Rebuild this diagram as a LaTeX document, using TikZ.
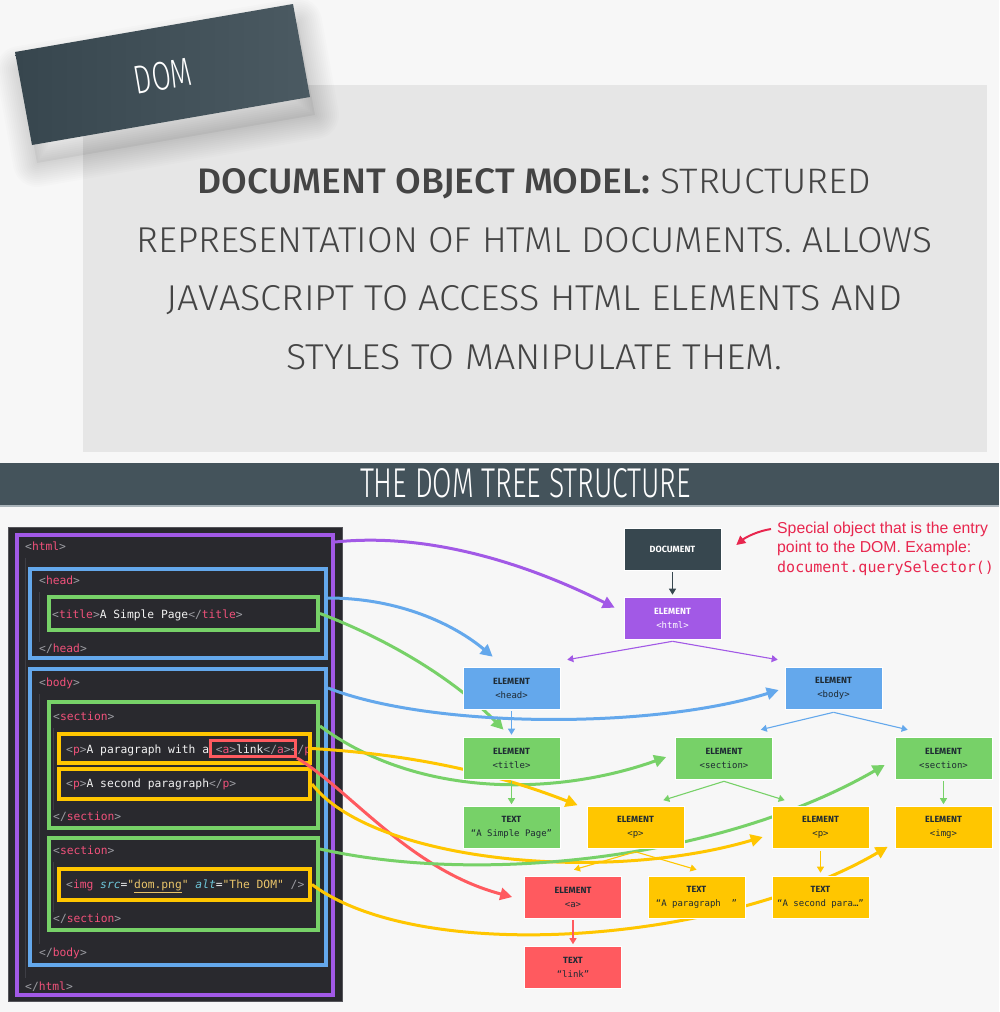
\documentclass[tikz,border=0pt]{standalone}
\usepackage{fontspec}
\usepackage{graphicx}
\usetikzlibrary{arrows.meta,calc}
\setmainfont{Liberation Sans}
\setmonofont{DejaVu Sans Mono}
\newfontfamily\lightsans{Fira Sans Light}
\newfontfamily\medsans{Fira Sans Medium}
\newfontfamily\nodesans{Fira Sans}

\definecolor{pagebg}{HTML}{F7F7F7}
\definecolor{panelgray}{HTML}{E6E6E6}
\definecolor{slate}{HTML}{44535B}
\definecolor{slateline}{HTML}{A9B3B9}
\definecolor{badgeL}{HTML}{37464E}
\definecolor{badgeR}{HTML}{4B5A62}
\definecolor{desctext}{HTML}{444444}
\definecolor{domPurple}{HTML}{A259E6}
\definecolor{domBlue}{HTML}{64A8EC}
\definecolor{domGreen}{HTML}{77D168}
\definecolor{domYellow}{HTML}{FFC600}
\definecolor{domRed}{HTML}{FF5A5F}
\definecolor{docDark}{HTML}{37474F}
\definecolor{noteRed}{HTML}{E8264E}
\definecolor{codeBg}{HTML}{29292E}
\definecolor{codeEdge}{HTML}{55555A}
\definecolor{codeGuide}{HTML}{3E3E45}
\definecolor{cBracket}{HTML}{9C9CA2}
\definecolor{cTag}{HTML}{F0517A}
\definecolor{cText}{HTML}{F2F2F2}
\definecolor{cAttr}{HTML}{6EC6DA}
\definecolor{cString}{HTML}{E9C46A}
\definecolor{nodeText}{HTML}{1E2A33}

\pgfdeclarelayer{back}
\pgfdeclarelayer{links}
\pgfsetlayers{back,links,main}

% syntax colouring for the HTML listing
\newcommand\codeBr[1]{\textcolor{cBracket}{#1}}
\newcommand\codeTag[1]{\textcolor{cTag}{#1}}
\newcommand\codeTxt[1]{\textcolor{cText}{#1}}
\newcommand\codeAttr[1]{\textcolor{cAttr}{\itshape #1}}
\newcommand\codeStr[1]{\textcolor{cString}{#1}}
\newcommand\open[1]{\codeBr{<}\codeTag{#1}\codeBr{>}}
\newcommand\close[1]{\codeBr{</}\codeTag{#1}\codeBr{>}}

% two-line label of a tree node
\newcommand\nodelabel[2]{{\bfseries #1}\\{\ttfamily\fontsize{9}{14}\selectfont #2}}

\begin{document}
\begin{tikzpicture}[x=1pt,y=-1pt,
  codeline/.style={anchor=base west, inner sep=0pt, font=\ttfamily\fontsize{11.3}{13}\selectfont},
  codebox/.style={draw=#1, line width=4pt, inner sep=0pt},
  treebox/.style={rectangle, fill=#1, draw=white, line width=0.6pt,
    minimum width=97pt, minimum height=42pt, inner sep=0pt, align=center,
    text=nodeText, font=\nodesans\fontsize{9}{14}\selectfont},
  link/.style={-{Triangle[length=6pt,width=7pt]}, line width=1.1pt},
  maplink/.style={-{Triangle[length=12pt,width=12pt]}, line width=3pt},
  descline/.style={anchor=base, inner sep=0pt, text=desctext},
  note/.style={anchor=base west, inner sep=0pt, text=noteRed}
]
\useasboundingbox (0,0) rectangle (999,1012);

\begin{pgfonlayer}{back}
% page
\fill[pagebg] (0,0) rectangle (999,1012);

% definition panel
\fill[panelgray] (83,85) rectangle (987,452);

% tilted badge with its soft shadow
\fill[black, opacity=0.04, shift={(5,18)}] (15,52) -- (293,4) -- (310,97) -- (32,145) -- cycle;
\foreach \w in {4,8,...,48}{
  \draw[black, opacity=0.012, line width=\w pt, line join=round, shift={(5,18)}]
    (15,52) -- (293,4) -- (310,97) -- (32,145) -- cycle;
}
\shade[left color=badgeL, right color=badgeR] (15,52) -- (293,4) -- (310,97) -- (32,145) -- cycle;
\node[rotate=9.8, inner sep=0pt, text=white] (domword) at (163,76)
  {\resizebox{58pt}{28pt}{\lightsans\fontsize{40}{40}\selectfont DOM}};

% definition text
\node[descline] (desc1) at (534.5,193)
  {\resizebox{674pt}{25pt}{{\medsans DOCUMENT OBJECT MODEL:} {\lightsans STRUCTURED}}};
\node[descline] (desc2) at (534.5,252)
  {\resizebox{796pt}{25pt}{\lightsans REPRESENTATION OF HTML DOCUMENTS. ALLOWS}};
\node[descline] (desc3) at (534.5,310)
  {\resizebox{735pt}{25pt}{\lightsans JAVASCRIPT TO ACCESS HTML ELEMENTS AND}};
\node[descline] (desc4) at (534.5,369)
  {\resizebox{496pt}{25pt}{\lightsans STYLES TO MANIPULATE THEM.}};

% section banner
\fill[slate] (0,463) rectangle (999,505);
\fill[slateline] (0,505) rectangle (999,507);
\node[anchor=base, inner sep=0pt, text=white] (banner) at (525.5,497)
  {\resizebox{331pt}{29pt}{\lightsans\fontsize{42}{42}\selectfont THE DOM TREE STRUCTURE}};

% code listing panel
\filldraw[fill=codeBg, draw=codeEdge, line width=0.8pt] (8,527) rectangle (342,1001);
\foreach \gx/\ga/\gb in {25/558/978, 39/592/642, 39/694/944, 53/728/810, 53/862/912}{
  \draw[codeGuide, line width=1pt] (\gx,\ga) -- (\gx,\gb);
}

\node[codeline] (l1) at (25,550) {\open{html}};
\node[codeline] (l2) at (39,584) {\open{head}};
\node[codeline] (l3) at (52,618) {\open{title}\codeTxt{A Simple Page}\close{title}};
\node[codeline] (l4) at (39,652) {\close{head}};
\node[codeline] (l5) at (39,686) {\open{body}};
\node[codeline] (l6) at (53,720) {\open{section}};
\begin{scope}
  \clip (57,732) rectangle (310,765);
  \node[codeline] (l7) at (66,753) {\open{p}\codeTxt{A paragraph with a }\open{a}\codeTxt{link}\close{a}\close{p}};
\end{scope}
\node[codeline] (l8) at (66,787) {\open{p}\codeTxt{A second paragraph}\close{p}};
\node[codeline] (l9) at (53,820) {\close{section}};
\node[codeline] (l10) at (53,854) {\open{section}};
\node[codeline] (l11) at (66,888) {\codeBr{<}\codeTag{img} \codeAttr{src}\codeTxt{=}\codeStr{"\underline{dom.png}"} \codeAttr{alt}\codeTxt{=}\codeStr{"The DOM"} \codeBr{/>}};
\node[codeline] (l12) at (53,922) {\close{section}};
\node[codeline] (l13) at (39,956) {\close{body}};
\node[codeline] (l14) at (25,990) {\close{html}};

% element outlines in the listing
\node[codebox=domPurple, minimum width=316pt, minimum height=460pt] (cHtml) at (175,765) {};
\node[codebox=domBlue, minimum width=296pt, minimum height=89pt] (cHead) at (178,613.5) {};
\node[codebox=domGreen, minimum width=269pt, minimum height=33pt] (cTitle) at (183.5,613.5) {};
\node[codebox=domBlue, minimum width=296pt, minimum height=296pt] (cBody) at (178,817) {};
\node[codebox=domGreen, minimum width=269pt, minimum height=126pt] (cSec1) at (183.5,765) {};
\node[codebox=domYellow, minimum width=251pt, minimum height=29pt] (cP1) at (184.5,748.5) {};
\node[codebox=domRed, line width=3pt, minimum width=85pt, minimum height=16pt] (cA) at (253,748.5) {};
\node[codebox=domYellow, minimum width=251pt, minimum height=30pt] (cP2) at (184.5,784) {};
\node[codebox=domGreen, minimum width=269pt, minimum height=92pt] (cSec2) at (183.5,884) {};
\node[codebox=domYellow, minimum width=251pt, minimum height=31pt] (cImg) at (184.5,884.5) {};
\end{pgfonlayer}

% DOM tree
\node[treebox=docDark, text=white] (doc) at (672.5,549) {\bfseries DOCUMENT};
\node[treebox=domPurple, text=white] (html) at (672.5,618) {\nodelabel{ELEMENT}{<html>}};
\node[treebox=domBlue] (head) at (511.5,688) {\nodelabel{ELEMENT}{<head>}};
\node[treebox=domBlue] (body) at (833.5,688) {\nodelabel{ELEMENT}{<body>}};
\node[treebox=domGreen] (title) at (511.5,758) {\nodelabel{ELEMENT}{<title>}};
\node[treebox=domGreen] (sec1) at (724,758) {\nodelabel{ELEMENT}{<section>}};
\node[treebox=domGreen] (sec2) at (943.5,758) {\nodelabel{ELEMENT}{<section>}};
\node[treebox=domGreen] (txt1) at (511.5,827.5) {\nodelabel{TEXT}{“A Simple Page”}};
\node[treebox=domYellow] (p1) at (635.5,827.5) {\nodelabel{ELEMENT}{<p>}};
\node[treebox=domYellow] (p2) at (820.5,827.5) {\nodelabel{ELEMENT}{<p>}};
\node[treebox=domYellow] (img) at (943.5,827.5) {\nodelabel{ELEMENT}{<img>}};
\node[treebox=domRed] (a) at (573,897) {\nodelabel{ELEMENT}{<a>}};
\node[treebox=domYellow] (txtp1) at (696.5,897) {\nodelabel{TEXT}{“A paragraph\ \ ”}};
\node[treebox=domYellow] (txtp2) at (820.5,897) {\nodelabel{TEXT}{“A second para…”}};
\node[treebox=domRed] (link) at (573,967.5) {\nodelabel{TEXT}{“link”}};

% parent -> child edges
\draw[link, docDark] ($(doc.south)+(0,2)$) -- ($(html.north)+(0,-2)$);
\draw[link, domPurple] ($(html.south)+(0,2)$) -- ($(head.north east)+(7,-7)$);
\draw[link, domPurple] ($(html.south)+(0,2)$) -- ($(body.north west)+(-7,-7)$);
\draw[link, domBlue] ($(head.south)+(0,2)$) -- ($(title.north)+(0,-2)$);
\draw[link, domBlue] ($(body.south)+(0,3)$) -- ($(sec1.north east)+(-12,-7)$);
\draw[link, domBlue] ($(body.south)+(0,3)$) -- ($(sec2.north west)+(13,-7)$);
\draw[link, domGreen] ($(title.south)+(0,2)$) -- ($(txt1.north)+(0,-2)$);
\draw[link, domGreen] ($(sec1.south)+(0,2)$) -- ($(p1.north east)+(-21,-6)$);
\draw[link, domGreen] ($(sec1.south)+(0,2)$) -- ($(p2.north west)+(13,-6)$);
\draw[link, domGreen] ($(sec2.south)+(0,2)$) -- ($(img.north)+(0,-2)$);
\draw[link, domYellow] ($(p1.south)+(0,3)$) -- ($(a.north)+(1,-6)$);
\draw[link, domYellow] ($(p1.south)+(0,3)$) -- ($(txtp1.north)+(0,-6)$);
\draw[link, domYellow] ($(p2.south)+(0,2)$) -- ($(txtp2.north)+(0,-3)$);
\draw[link, domRed] ($(a.south)+(0,2)$) -- ($(link.north)+(0,-2)$);

% note about the document object
\node[note, font=\fontsize{15.8}{18}\selectfont] (note1) at (777,533) {Special object that is the entry};
\node[note, font=\fontsize{15.8}{18}\selectfont] (note2) at (777,552) {point to the DOM. Example:};
\node[note, font=\ttfamily\fontsize{15}{16}\selectfont] (note3) at (777,572) {document.querySelector()};
\coordinate (noteTail) at (771,529);
\draw[noteRed, line width=2pt, -{Triangle[length=9pt,width=9pt]}]
  (noteTail) .. controls (758,531) and (746,537) .. ($(doc.east)+(15,-4)$);

% listing -> tree correspondences
\begin{pgfonlayer}{links}
\draw[maplink, domPurple] ([yshift=-9pt]cHtml.north east)
  .. controls (430,532) and (530,565) .. ($(html.north west)+(-9,11)$);
\draw[maplink, domBlue] ([yshift=-31pt]cHead.north east)
  .. controls (400,598) and (455,625) .. ($(head.north west)+(30,-10)$);
\draw[maplink, domGreen] (cTitle.east)
  .. controls (390,640) and (455,680) .. ($(title.north)+(-8,-7)$);
\draw[maplink, domBlue] ([yshift=-21pt]cBody.north east)
  .. controls (430,728) and (650,730) .. ($(body.west)+(-6,2)$);
\draw[maplink, domGreen] ([yshift=-26pt]cSec1.north east)
  .. controls (420,800) and (560,795) .. ($(sec1.west)+(-9,-1)$);
\draw[maplink, domYellow] (cP1.east)
  .. controls (420,755) and (500,775) .. ($(p1.north west)+(-9,-1)$);
\draw[maplink, domRed] (cA.south east)
  .. controls (350,790) and (410,870) .. ($(a.west)+(-12,0)$);
\draw[maplink, domYellow] (cP2.east)
  .. controls (370,860) and (600,885) .. ($(p2.west)+(-9,9.5)$);
\draw[maplink, domGreen] ([yshift=-13pt]cSec2.north east)
  .. controls (480,885) and (720,860) .. ($(sec2.west)+(-10,7)$);
\draw[maplink, domYellow] (cImg.east)
  .. controls (420,965) and (720,945) .. ($(img.south west)+(-7,-2)$);
\end{pgfonlayer}

\end{tikzpicture}
\end{document}
